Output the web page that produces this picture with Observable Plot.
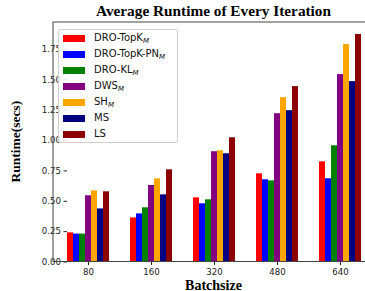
<!DOCTYPE html>
<html>
<head>
<meta charset="utf-8">
<script src="https://cdn.jsdelivr.net/npm/d3@7"></script>
<script src="https://cdn.jsdelivr.net/npm/@observablehq/plot@0.6"></script>
<style>
  html, body { margin: 0; padding: 0; background: white; overflow: hidden; }
  #wrap { position: relative; width: 365px; height: 291px; }
  #legend { position: absolute; left: 58px; top: 29px; width: 120px; height: 114px;
    box-sizing: border-box; border: 1px solid #d0d0d0; border-radius: 2px;
    background: rgba(255,255,255,0.85); font-family: "DejaVu Sans", sans-serif; font-size: 10px; color: #111; }
  .row { position: absolute; left: 4px; height: 8px; }
  .sw { position: absolute; left: 0; top: 0; width: 22px; height: 7.5px; }
  .lab { position: absolute; left: 31px; top: -2.5px; white-space: nowrap; line-height: 12px; }
  .lab sub { font-style: italic; font-size: 7px; vertical-align: -2px; line-height: 0; }
</style>
</head>
<body>
<div id="wrap"></div>
<script>
const title = "Average Runtime of Every Iteration";
const xLabel = "Batchsize";
const yLabel = "Runtime(secs)";
const batchSizes = ["80", "160", "320", "480", "640"];
const seriesNames = ["DRO-TopK", "DRO-TopK-PN", "DRO-KL", "DWS", "SH", "MS", "LS"];
const seriesSubs = ["M", "M", "M", "M", "M", "", ""];
const seriesColors = ["red", "blue", "green", "purple", "orange", "navy", "darkred"];
const yTicks = [0, 0.25, 0.5, 0.75, 1.0, 1.25, 1.5, 1.75];

const droTopK   = [0.240, 0.363, 0.528, 0.726, 0.825];
const droTopKPN = [0.230, 0.396, 0.479, 0.677, 0.685];
const droKL     = [0.230, 0.446, 0.512, 0.668, 0.957];
const dws       = [0.545, 0.630, 0.908, 1.221, 1.543];
const sh        = [0.586, 0.685, 0.916, 1.353, 1.790];
const ms        = [0.437, 0.553, 0.891, 1.246, 1.485];
const ls        = [0.578, 0.759, 1.023, 1.444, 1.873];
const seriesValues = [droTopK, droTopKPN, droKL, dws, sh, ms, ls];

const data = seriesNames.flatMap((s, i) =>
  batchSizes.map((b, j) => ({batch: b, series: s, value: seriesValues[i][j]})));

const W = 365, H = 291;
const mL = 53, mT = 22, mB = 29.5, mR = -9;

const chart = Plot.plot({
  width: W, height: H,
  marginLeft: mL, marginTop: mT, marginBottom: mB, marginRight: mR,
  style: {fontFamily: "DejaVu Sans, sans-serif", fontSize: "8.6px", color: "#222", background: "white", overflow: "visible"},
  fx: {domain: batchSizes, paddingInner: 0.34, paddingOuter: 0.21, label: null, tickSize: 3.5, tickPadding: 3},
  x: {domain: seriesNames, padding: 0, axis: null},
  y: {domain: [0, 1.972], ticks: yTicks, tickFormat: d3.format(".2f"), label: null, tickSize: 3.5, tickPadding: 3},
  color: {domain: seriesNames, range: seriesColors},
  marks: [
    Plot.barY(data, {fx: "batch", x: "series", y: "value", fill: "series"})
  ]
});

const svg = d3.select(chart);
// axes frame (spines)
svg.append("rect")
  .attr("x", mL).attr("y", mT)
  .attr("width", W - mR - mL).attr("height", H - mB - mT)
  .attr("fill", "none").attr("stroke", "#444").attr("stroke-width", 1);
// title
svg.append("text").text(title)
  .attr("x", (mL + W - mR) / 2).attr("y", 15.5)
  .attr("text-anchor", "middle")
  .style("font-family", "'Liberation Serif', 'Times New Roman', serif")
  .style("font-weight", "bold").style("font-size", "15.3px").attr("fill", "#000");
// x label
svg.append("text").text(xLabel)
  .attr("x", (mL + W - mR) / 2).attr("y", 289.5)
  .attr("text-anchor", "middle")
  .style("font-family", "'Liberation Serif', 'Times New Roman', serif")
  .style("font-weight", "bold").style("font-size", "14px").attr("fill", "#000");
// y label
svg.append("text").text(yLabel)
  .attr("transform", `translate(19.5,${(mT + H - mB) / 2}) rotate(-90)`)
  .attr("text-anchor", "middle")
  .style("font-family", "'Liberation Serif', 'Times New Roman', serif")
  .style("font-weight", "bold").style("font-size", "13.5px").attr("fill", "#000");

const wrap = document.getElementById("wrap");
wrap.appendChild(chart);

// legend
const legend = document.createElement("div");
legend.id = "legend";
seriesNames.forEach((s, i) => {
  const row = document.createElement("div");
  row.className = "row";
  row.style.top = (4.5 + 16 * i) + "px";
  const sw = document.createElement("div");
  sw.className = "sw";
  sw.style.background = seriesColors[i];
  const lab = document.createElement("div");
  lab.className = "lab";
  lab.textContent = s;
  if (seriesSubs[i]) {
    const sub = document.createElement("sub");
    sub.textContent = seriesSubs[i];
    lab.appendChild(sub);
  }
  row.appendChild(sw);
  row.appendChild(lab);
  legend.appendChild(row);
});
wrap.appendChild(legend);
</script>
</body>
</html>
